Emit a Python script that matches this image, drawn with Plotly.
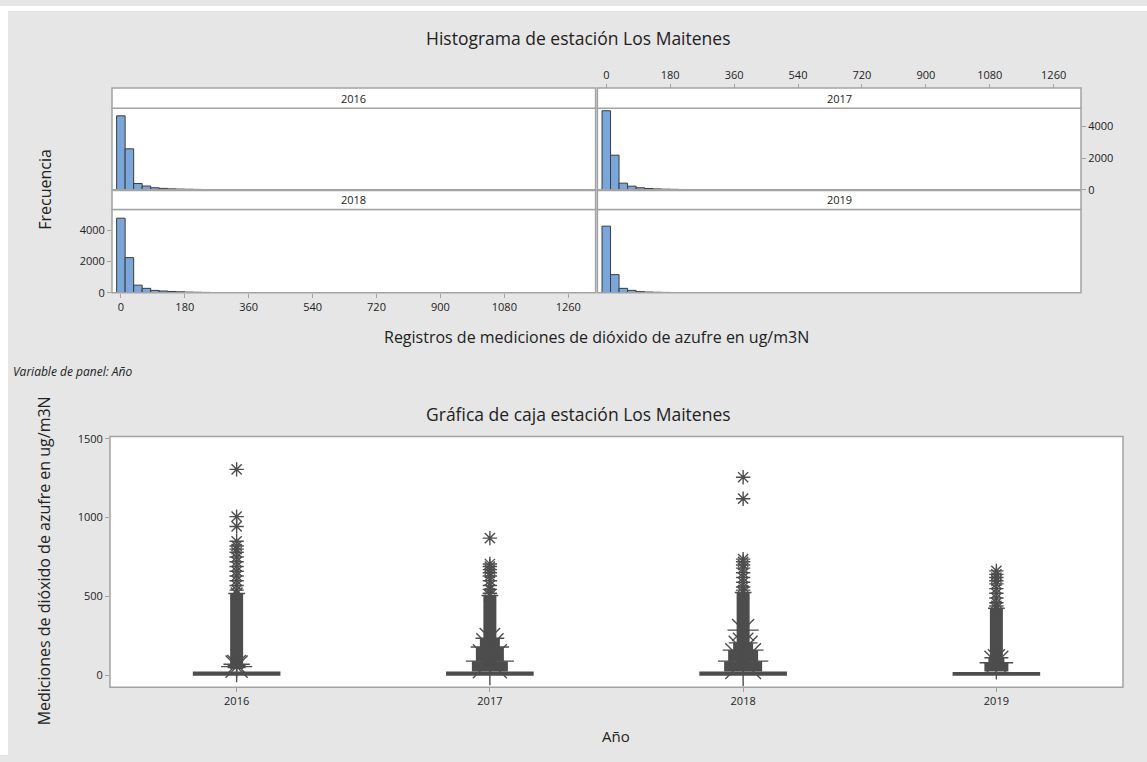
import plotly.graph_objects as go

W, H = 1147, 762

# ---------------- data ----------------
years = ["2016", "2017", "2018", "2019"]

# histogram: bin centres (ug/m3N) and counts per year
bin_centers = [0, 24, 48, 72, 96, 120, 144, 168, 192, 216, 240]
counts_2016 = [4680, 2590, 400, 240, 130, 90, 60, 45, 35, 25, 15]
counts_2017 = [5000, 2190, 420, 230, 130, 80, 55, 40, 30, 20, 10]
counts_2018 = [4780, 2250, 485, 280, 150, 110, 80, 60, 40, 30, 20]
counts_2019 = [4270, 1160, 280, 150, 70, 45, 30, 20, 10, 6, 3]
hist_ticks = [0, 180, 360, 540, 720, 900, 1080, 1260]
freq_ticks = [0, 2000, 4000]

# box plot statistics per year
box_q1 = [3, 3, 3, 2]
box_median = [8, 8, 8, 6]
box_q3 = [20, 20, 20, 16]
box_lowerfence = [0, 0, 0, 0]
box_upperfence = [45, 45, 45, 38]

# dense (overlapping) outlier column per year: from .. to
dense_low = [40, 40, 40, 35]
dense_high = [519, 506, 525, 425]

# individual outliers
outliers_2016 = [540, 570, 600, 630, 660, 690, 720, 750, 780, 800, 820, 850, 944, 1006, 1306]
outliers_2017 = [520, 545, 570, 600, 630, 650, 670, 690, 706, 870]
outliers_2018 = [540, 560, 590, 620, 650, 680, 700, 720, 737, 1120, 1256]
outliers_2019 = [440, 460, 490, 520, 550, 580, 600, 620, 640, 662]

# wide clusters of tied outliers near the base (low, high) per tier
cluster_2016 = [(45, 70)]
cluster_2017 = [(25, 90), (90, 180), (180, 235)]
cluster_2018 = [(25, 90), (90, 160), (160, 206)]
cluster_2019 = [(25, 80), (80, 112)]
wide_outliers = {"2016": [55], "2018": [287]}
box_ticks = [0, 500, 1000, 1500]

# ---------------- styles ----------------
BG = "#e6e6e6"
BORDER = "#a3a3a3"
DARK = "#4d4d4d"
BAR_FILL = "#7ba6da"
BAR_LINE = "#3c3c3c"
FONT = "Open Sans"
TXT = "#222222"


def px(x):
    return x / W


def py(y):
    return 1 - y / H


def star(size):
    return dict(symbol="asterisk-open", size=size, color=DARK, line=dict(color=DARK, width=1.4))


fig = go.Figure()

hist_counts = [counts_2016, counts_2017, counts_2018, counts_2019]
axes_ids = ["", "2", "3", "4"]
for i, yr in enumerate(years):
    fig.add_trace(go.Bar(
        x=bin_centers, y=hist_counts[i], width=24,
        marker=dict(color=BAR_FILL, line=dict(color=BAR_LINE, width=1)),
        xaxis="x" + axes_ids[i], yaxis="y" + axes_ids[i], showlegend=False,
        hoverinfo="skip",
    ))

# box plot
for i, yr in enumerate(years):
    fig.add_trace(go.Box(
        x=[yr], q1=[box_q1[i]], median=[box_median[i]], q3=[box_q3[i]],
        lowerfence=[box_lowerfence[i]], upperfence=[box_upperfence[i]],
        width=0.34, whiskerwidth=0, fillcolor=DARK, line=dict(color=DARK, width=1.5),
        boxpoints=False, xaxis="x5", yaxis="y5", showlegend=False, hoverinfo="skip",
    ))

clusters = [cluster_2016, cluster_2017, cluster_2018, cluster_2019]
cluster_widths = {"2016": [18], "2017": [36, 28, 20], "2018": [38, 30, 20], "2019": [24, 16]}
for i, yr in enumerate(years):
    fig.add_trace(go.Scatter(
        x=[yr, yr], y=[dense_low[i], dense_high[i]], mode="lines",
        line=dict(color=DARK, width=13), xaxis="x5", yaxis="y5",
        showlegend=False, hoverinfo="skip",
    ))
    for j, (lo, hi) in enumerate(clusters[i]):
        w = cluster_widths[yr][j]
        fig.add_trace(go.Scatter(
            x=[yr, yr], y=[lo, hi], mode="lines",
            line=dict(color=DARK, width=w), xaxis="x5", yaxis="y5",
            showlegend=False, hoverinfo="skip",
        ))
        fig.add_trace(go.Scatter(
            x=[yr], y=[hi], mode="markers", marker=star(w + 4),
            xaxis="x5", yaxis="y5", showlegend=False, hoverinfo="skip",
        ))

outliers = [outliers_2016, outliers_2017, outliers_2018, outliers_2019]
for i, yr in enumerate(years):
    vals = outliers[i]
    fig.add_trace(go.Scatter(
        x=[yr] * len(vals), y=vals, mode="markers", marker=star(12),
        xaxis="x5", yaxis="y5", showlegend=False, hoverinfo="skip",
    ))
    fig.add_trace(go.Scatter(
        x=[yr], y=[dense_high[i]], mode="markers", marker=star(14),
        xaxis="x5", yaxis="y5", showlegend=False, hoverinfo="skip",
    ))
for yr, vals in wide_outliers.items():
    fig.add_trace(go.Scatter(
        x=[yr] * len(vals), y=vals, mode="markers", marker=star(26),
        xaxis="x5", yaxis="y5", showlegend=False, hoverinfo="skip",
    ))

# ---------------- layout ----------------
xL = [px(112), px(595.6)]
xR = [px(597.4), px(1081)]
yT = [py(187), py(104)]
yB = [py(291.7), py(207)]
hist_range = [-25, 1337]
tickfont = dict(family=FONT, size=11, color=TXT)

common_x = dict(range=hist_range, showgrid=False, zeroline=False, showline=False,
                tickvals=hist_ticks, tickfont=tickfont, ticks="outside",
                ticklen=4, tickcolor=BORDER, fixedrange=True)
common_y = dict(showgrid=False, zeroline=False, showline=False,
                tickvals=freq_ticks, tickfont=tickfont, ticks="outside",
                ticklen=4, tickcolor=BORDER, fixedrange=True)

layout = dict(
    width=W, height=H, margin=dict(l=0, r=0, t=0, b=0),
    paper_bgcolor=BG, plot_bgcolor="white", showlegend=False,
    bargap=0, hovermode=False,
    font=dict(family=FONT, color=TXT),
    xaxis=dict(common_x, domain=xL, anchor="y", showticklabels=False, ticks=""),
    yaxis=dict(common_y, domain=yT, anchor="x", range=[0, 5160], showticklabels=False, ticks=""),
    xaxis2=dict(common_x, domain=xR, anchor="free", position=py(83.3), side="top"),
    yaxis2=dict(common_y, domain=yT, anchor="x2", range=[0, 5160], side="right"),
    xaxis3=dict(common_x, domain=xL, anchor="y3", side="bottom"),
    yaxis3=dict(common_y, domain=yB, anchor="x3", range=[0, 5340], side="left"),
    xaxis4=dict(common_x, domain=xR, anchor="y4", showticklabels=False, ticks=""),
    yaxis4=dict(common_y, domain=yB, anchor="x4", range=[0, 5340], showticklabels=False, ticks=""),
    xaxis5=dict(domain=[px(110), px(1123)], anchor="y5", type="category",
                categoryorder="array", categoryarray=years, range=[-0.5, 3.5],
                showgrid=False, zeroline=False, showline=False, ticks="outside",
                ticklen=4, tickcolor=BORDER, tickfont=tickfont, fixedrange=True),
    yaxis5=dict(domain=[py(693), py(438)], anchor="x5", range=[-75, 1514],
                tickvals=box_ticks, showgrid=False, zeroline=False, showline=False,
                ticks="outside", ticklen=4, tickcolor=BORDER, tickfont=tickfont,
                fixedrange=True),
)
fig.update_layout(**layout)

shapes = []
shapes.append(dict(type="rect", xref="paper", yref="paper", x0=0, x1=px(8), y0=0, y1=1,
                   fillcolor="white", line=dict(width=0), layer="above"))
shapes.append(dict(type="rect", xref="paper", yref="paper", x0=0, x1=1, y0=py(5), y1=1,
                   fillcolor="white", line=dict(width=0), layer="above"))
for (x0, x1) in [(112, 595.6), (597.4, 1081)]:
    for (y0, y1) in [(104, 187), (207, 291.7)]:
        shapes.append(dict(type="rect", xref="paper", yref="paper",
                           x0=px(x0), x1=px(x1), y0=py(y1), y1=py(y0),
                           line=dict(color=BORDER, width=1.5), fillcolor="rgba(0,0,0,0)",
                           layer="above"))
strip_rows = [(83.3, 104), (187.7, 207)]
strip_pos = {"2016": (112, 595.6, 0), "2017": (597.4, 1081, 0),
             "2018": (112, 595.6, 1), "2019": (597.4, 1081, 1)}
annotations = []
for yr in years:
    x0, x1, r = strip_pos[yr]
    s0, s1 = strip_rows[r]
    shapes.append(dict(type="rect", xref="paper", yref="paper",
                       x0=px(x0), x1=px(x1), y0=py(s1), y1=py(s0),
                       fillcolor="white", line=dict(color=BORDER, width=1.5)))
    annotations.append(dict(xref="paper", yref="paper", x=px((x0 + x1) / 2),
                            y=py((s0 + s1) / 2), text=yr, showarrow=False,
                            font=dict(family=FONT, size=11, color=TXT),
                            xanchor="center", yanchor="middle"))
shapes.append(dict(type="rect", xref="paper", yref="paper", x0=px(110), x1=px(1123),
                   y0=py(693), y1=py(438), line=dict(color=BORDER, width=1.5),
                   fillcolor="rgba(0,0,0,0)", layer="above"))

texts = [
    ("Histograma de estación Los Maitenes", 578, 33, 17.5, 0, "center"),
    ("Frecuencia", 45, 187, 16, -90, "center"),
    ("Registros de mediciones de dióxido de azufre en ug/m3N", 596.5, 337, 16, 0, "center"),
    ("<i>Variable de panel: Año</i>", 11, 372, 12, 0, "left"),
    ("Gráfica de caja estación Los Maitenes", 578, 415, 17.5, 0, "center"),
    ("Mediciones de dióxido de azufre en ug/m3N", 44, 565, 16, -90, "center"),
    ("Año", 616, 743, 15, 0, "center"),
]
for t, x, y, s, ang, xa in texts:
    annotations.append(dict(xref="paper", yref="paper", x=px(x), y=py(y), text=t,
                            showarrow=False, textangle=ang, xanchor=xa, yanchor="middle",
                            font=dict(family=FONT, size=s, color=TXT)))

fig.update_layout(shapes=shapes, annotations=annotations)
fig.write_html(
    "out.html",
    config={"displayModeBar": False, "staticPlot": True},
    post_script="document.body.style.margin='0';document.body.style.overflow='hidden';",
)
